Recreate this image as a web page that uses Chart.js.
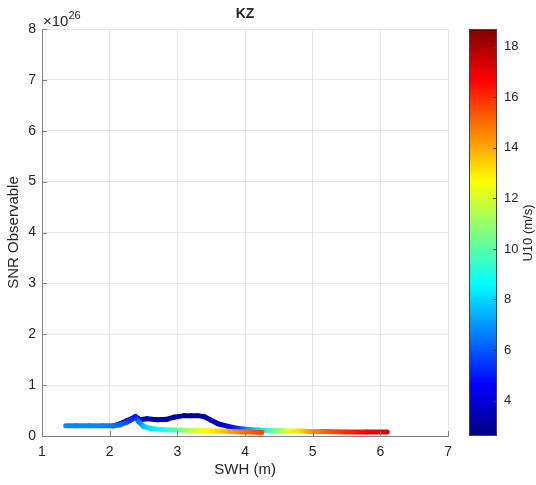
<!DOCTYPE html>
<html>
<head>
<meta charset="utf-8">
<script src="https://cdn.jsdelivr.net/npm/chart.js@4.4.1/dist/chart.umd.min.js"></script>
<style>
  body { margin: 0; background: #fff; }
  #wrap { position: relative; width: 536px; height: 485px; }
  #main { position: absolute; left: 0; top: 0; }
  #cbar { position: absolute; left: 460px; top: 0; }
</style>
</head>
<body>
<div id="wrap">
  <canvas id="main" width="460" height="485"></canvas>
  <canvas id="cbar" width="76" height="485"></canvas>
</div>
<script>
// SNR values are in units of 1e26 (axis multiplier)
const swh_low = [1.35, 1.5, 1.7, 1.9, 2.05, 2.15, 2.25, 2.32, 2.38, 2.43, 2.5, 2.6, 2.75, 2.9, 3.05, 3.2, 3.35, 3.5, 3.65, 3.8, 3.95, 4.1, 4.25];
const snr_low = [0.20, 0.20, 0.20, 0.20, 0.20, 0.22, 0.27, 0.32, 0.38, 0.28, 0.19, 0.15, 0.13, 0.12, 0.12, 0.11, 0.11, 0.10, 0.10, 0.09, 0.08, 0.08, 0.07];
const u10_low = [6.8, 6.8, 6.8, 6.7, 6.5, 6.2, 5.8, 5.4, 5.0, 6.5, 7.6, 8.2, 8.8, 9.6, 10.6, 11.6, 12.4, 12.9, 13.5, 14.2, 14.8, 15.3, 15.6];

const swh_high = [2.05, 2.15, 2.25, 2.32, 2.38, 2.45, 2.55, 2.7, 2.85, 2.95, 3.1, 3.2, 3.3, 3.4, 3.5, 3.6, 3.75, 3.9, 4.05, 4.2, 4.35, 4.5, 4.65, 4.8, 4.95, 5.2, 5.5, 5.8, 6.1];
const snr_high = [0.20, 0.24, 0.30, 0.34, 0.38, 0.32, 0.34, 0.32, 0.33, 0.37, 0.40, 0.40, 0.40, 0.38, 0.31, 0.24, 0.19, 0.15, 0.13, 0.12, 0.11, 0.11, 0.10, 0.10, 0.09, 0.09, 0.08, 0.08, 0.08];
const u10_high = [4.2, 3.8, 3.6, 3.5, 3.5, 3.5, 3.4, 3.3, 3.3, 3.2, 3.0, 3.0, 3.0, 3.1, 3.4, 3.8, 4.5, 5.5, 7.0, 8.2, 9.6, 11.0, 12.2, 13.2, 14.2, 15.2, 16.0, 16.8, 17.3];

const xTicks = [1, 2, 3, 4, 5, 6, 7];
const yTicks = [0, 1, 2, 3, 4, 5, 6, 7, 8];
const cbTicks = [4, 6, 8, 10, 12, 14, 16, 18];
const cbMin = 2.6, cbMax = 18.7;

const FONT = "'Liberation Sans', Arial, sans-serif";
const TXT = "#262626";

function jet(u) {
  let t = (u - cbMin) / (cbMax - cbMin);
  t = Math.max(0, Math.min(1, t));
  const c = (v) => Math.round(255 * Math.max(0, Math.min(1, v)));
  const r = c(1.5 - Math.abs(4 * t - 3));
  const g = c(1.5 - Math.abs(4 * t - 2));
  const b = c(1.5 - Math.abs(4 * t - 1));
  return `rgb(${r},${g},${b})`;
}

function segColor(u10) {
  return (ctx) => {
    const g = ctx.chart.ctx.createLinearGradient(ctx.p0.x, ctx.p0.y, ctx.p1.x, ctx.p1.y);
    g.addColorStop(0, jet(u10[ctx.p0DataIndex]));
    g.addColorStop(1, jet(u10[ctx.p1DataIndex]));
    return g;
  };
}

function makeSet(xs, ys, us) {
  return {
    data: xs.map((x, i) => ({ x: x, y: ys[i] })),
    showLine: true,
    borderWidth: 5,
    borderCapStyle: "round",
    borderJoinStyle: "round",
    pointRadius: 0,
    borderColor: jet(us[0]),
    segment: { borderColor: segColor(us) },
  };
}

// inward tick marks + text around the axes
const axesDeco = {
  id: "axesDeco",
  afterDraw(chart) {
    const c = chart.ctx;
    const a = chart.chartArea;
    const sx = chart.scales.x, sy = chart.scales.y;
    c.save();
    c.strokeStyle = "#808080";
    c.lineWidth = 1;
    xTicks.forEach((v) => {
      const px = Math.round(sx.getPixelForValue(v)) + 0.5;
      c.beginPath(); c.moveTo(px, a.bottom); c.lineTo(px, a.bottom - 5); c.stroke();
    });
    yTicks.forEach((v) => {
      const py = Math.round(sy.getPixelForValue(v)) + 0.5;
      c.beginPath(); c.moveTo(a.left, py); c.lineTo(a.left + 5, py); c.stroke();
    });
    c.fillStyle = TXT;
    c.textAlign = "center";
    c.textBaseline = "middle";
    c.font = "bold 14px " + FONT;
    c.fillText("KZ", (a.left + a.right) / 2, 14);
    c.font = "15px " + FONT;
    c.fillText("SWH (m)", (a.left + a.right) / 2, 470);
    c.save();
    c.translate(14, (a.top + a.bottom) / 2);
    c.rotate(-Math.PI / 2);
    c.fillText("SNR Observable", 0, 0);
    c.restore();
    c.textAlign = "left";
    c.textBaseline = "alphabetic";
    c.font = "15px " + FONT;
    c.fillText("\u00d710", a.left + 1, 26);
    const w = c.measureText("\u00d710").width;
    c.font = "11px " + FONT;
    c.fillText("26", a.left + 1 + w, 19);
    c.restore();
  },
};

new Chart(document.getElementById("main"), {
  type: "scatter",
  data: {
    datasets: [makeSet(swh_low, snr_low, u10_low), makeSet(swh_high, snr_high, u10_high)],
  },
  options: {
    responsive: false,
    animation: false,
    layout: { padding: { top: 29, right: 8, left: 0, bottom: 0 } },
    plugins: { legend: { display: false }, tooltip: { enabled: false } },
    scales: {
      x: {
        type: "linear", min: 1, max: 7,
        afterBuildTicks: (s) => { s.ticks = xTicks.map((v) => ({ value: v })); },
        afterFit: (s) => { s.height = 49; },
        ticks: { color: TXT, font: { family: FONT, size: 14 }, padding: 8 },
        grid: { color: "#e6e6e6", drawTicks: false },
        border: { color: "#808080" },
      },
      y: {
        min: 0, max: 8,
        afterBuildTicks: (s) => { s.ticks = yTicks.map((v) => ({ value: v })); },
        afterFit: (s) => { s.width = 42; },
        ticks: { color: TXT, font: { family: FONT, size: 14 }, padding: 6 },
        grid: { color: "#e6e6e6", drawTicks: false },
        border: { color: "#808080" },
      },
    },
  },
  plugins: [axesDeco],
});

// colorbar
const jetStops = (g) => {
  for (let i = 0; i <= 32; i++) {
    const t = i / 32;
    g.addColorStop(t, jet(cbMin + t * (cbMax - cbMin)));
  }
  return g;
};

const cbarDeco = {
  id: "cbarDeco",
  afterDraw(chart) {
    const c = chart.ctx;
    const a = chart.chartArea;
    const sy = chart.scales.y;
    c.save();
    c.strokeStyle = "#404040";
    c.lineWidth = 1;
    c.strokeRect(a.left + 0.5, a.top + 0.5, a.right - a.left - 1, a.bottom - a.top - 1);
    cbTicks.forEach((v) => {
      const py = Math.round(sy.getPixelForValue(v)) + 0.5;
      c.beginPath(); c.moveTo(a.right, py); c.lineTo(a.right - 4, py); c.stroke();
    });
    c.fillStyle = TXT;
    c.font = "13px " + FONT;
    c.textAlign = "center";
    c.textBaseline = "middle";
    c.translate(68, 233);
    c.rotate(-Math.PI / 2);
    c.fillText("U10 (m/s)", 0, 0);
    c.restore();
  },
};

new Chart(document.getElementById("cbar"), {
  type: "bar",
  data: {
    labels: [""],
    datasets: [{
      data: [[cbMin, cbMax]],
      barPercentage: 1,
      categoryPercentage: 1,
      backgroundColor: (ctx) => {
        const a = ctx.chart.chartArea;
        if (!a) return "#000080";
        return jetStops(ctx.chart.ctx.createLinearGradient(0, a.bottom, 0, a.top));
      },
    }],
  },
  options: {
    responsive: false,
    animation: false,
    layout: { padding: { top: 29, left: 9, right: 0, bottom: 49 } },
    plugins: { legend: { display: false }, tooltip: { enabled: false } },
    scales: {
      x: { display: false },
      y: {
        position: "right",
        min: cbMin, max: cbMax,
        afterBuildTicks: (s) => { s.ticks = cbTicks.map((v) => ({ value: v })); },
        afterFit: (s) => { s.width = 39; },
        ticks: { color: TXT, font: { family: FONT, size: 13 }, padding: 7 },
        grid: { display: false, drawTicks: false },
        border: { display: false },
      },
    },
  },
  plugins: [cbarDeco],
});
</script>
</body>
</html>
